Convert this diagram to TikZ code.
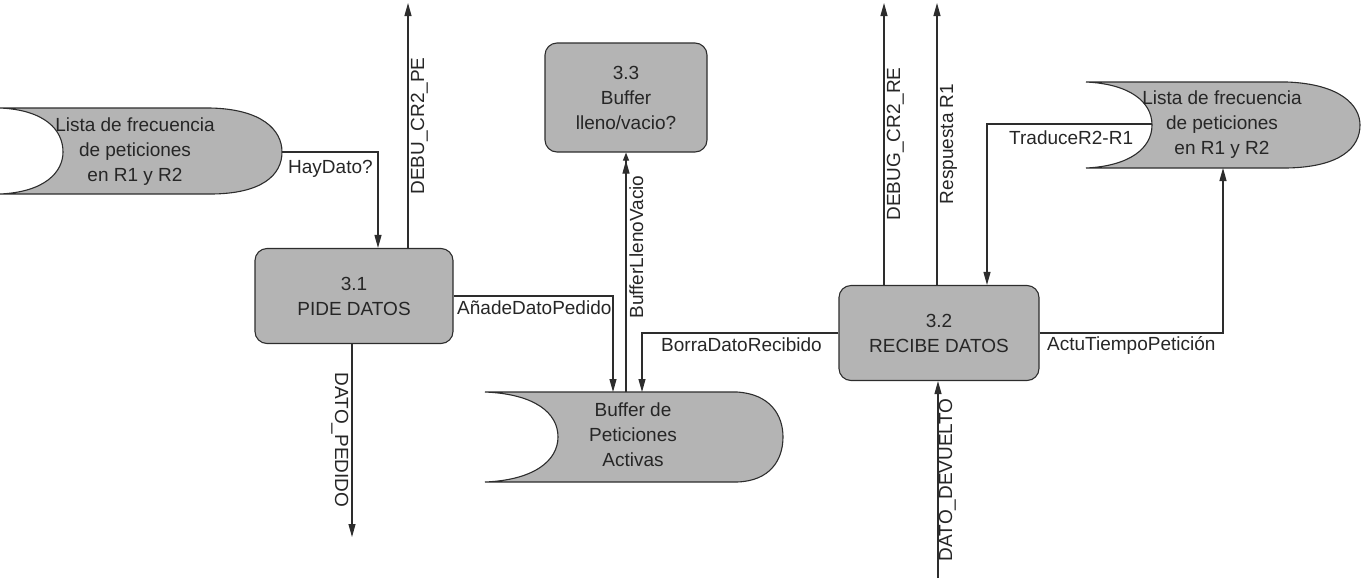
\documentclass[tikz,border=0pt]{standalone}
\usepackage{fontspec}
\setmainfont{Liberation Sans}
\usetikzlibrary{arrows.meta,calc}
\definecolor{storegray}{RGB}{180,180,180}
\definecolor{linegray}{RGB}{45,45,45}
\begin{document}
\begin{tikzpicture}[x=1pt,y=-1pt,
  txt/.style={font=\fontsize{19}{25}\selectfont, inner sep=0pt, text=black!85},
  proc/.style={txt, draw=linegray, fill=storegray, rounded corners=12pt, line width=1.1pt, align=center},
  storeshape/.style={draw=linegray, fill=storegray, line width=1.1pt},
  flow/.style={draw=linegray, line width=1.1pt, -{Triangle[length=13pt,width=7pt]}},
  flowdbl/.style={draw=linegray, line width=1.1pt, -{Triangle[length=13pt,width=7pt]Triangle[length=8pt,width=6pt]}}]
\useasboundingbox (0,0) rectangle (1366,582);

% data stores
\path[storeshape] (0,108) -- (210,108) .. controls (262,109) and (282,130) .. (282,152)
  .. controls (282,175) and (262,194) .. (210,194) -- (0,194)
  .. controls (45,192) and (63,172) .. (63,152) .. controls (63,130) and (45,110) .. (0,108) -- cycle;
\path[storeshape] (485,392) -- (737,392) .. controls (770,394) and (783,415) .. (783,437)
  .. controls (783,460) and (770,481) .. (737,482) -- (485,482)
  .. controls (535,480) and (558,460) .. (558,437) .. controls (558,413) and (535,394) .. (485,392) -- cycle;
\path[storeshape] (1086,82) -- (1287,82) .. controls (1340,84) and (1360,105) .. (1360,125)
  .. controls (1360,148) and (1340,167) .. (1287,168) -- (1086,168)
  .. controls (1130,166) and (1152,148) .. (1152,125) .. controls (1152,102) and (1130,84) .. (1086,82) -- cycle;

\node[txt, align=center] (ls) at (135,152) {Lista de frecuencia\\de peticiones\\en R1 y R2};
\node[txt, align=center] (bf) at (633,435) {Buffer de\\Peticiones\\Activas};
\node[txt, align=center] (rs) at (1222,125) {Lista de frecuencia\\de peticiones\\en R1 y R2};

% processes
\node[proc, minimum width=198pt, minimum height=95pt] (p31) at (354,296) {3.1\\PIDE DATOS};
\node[proc, minimum width=200pt, minimum height=95pt] (p32) at (939,333) {3.2\\RECIBE DATOS};
\node[proc, minimum width=162pt, minimum height=109pt] (p33) at (626,97.5) {3.3\\Buffer\\lleno/vacio?};

% connector end points
\coordinate (lsTip) at (282,152);
\coordinate (bfA) at (613,392);
\coordinate (bfB) at (626,392);
\coordinate (bfC) at (642,392);
\coordinate (rsIn) at (1152,124);
\coordinate (rsBot) at (1223,168);
\coordinate (top1) at (408,3);
\coordinate (top2) at (884,3);
\coordinate (top3) at (937,3);
\coordinate (bot1) at (352,537);
\coordinate (bot2) at (938,578);

% flows
\draw[flow] (lsTip) -| ([xshift=24pt]p31.north);
\draw[flow] ([xshift=54pt]p31.north) -- (top1);
\draw[flow] (p31.east) -| (bfA);
\draw[flowdbl] (bfB) -- (p33.south);
\draw[flow] (p32.west) -| (bfC);
\draw[flow] (rsIn) -| ([xshift=48pt]p32.north);
\draw[flow] (p32.east) -| (rsBot);
\draw[flow] ([xshift=-55pt]p32.north) -- (top2);
\draw[flow] ([xshift=-2pt]p32.north) -- (top3);
\draw[flow] (bot2) -- ([xshift=-1pt]p32.south);
\draw[flow] ([xshift=-2pt]p31.south) -- (bot1);

% labels
\node[txt, anchor=base west] (lHay) at (288,173) {HayDato?};
\node[txt, anchor=base west] (lAn) at (457,314) {AñadeDatoPedido};
\node[txt, anchor=base west] (lBo) at (661,351) {BorraDatoRecibido};
\node[txt, anchor=base west] (lAc) at (1047,350) {ActuTiempoPetición};
\node[txt, anchor=base west] (lTr) at (1009,144) {TraduceR2-R1};
\node[txt, rotate=90, anchor=base] (lDe) at (424,126) {DEBU\_CR2\_PE};
\node[txt, rotate=90, anchor=base] (lDr) at (900,144) {DEBUG\_CR2\_RE};
\node[txt, rotate=90, anchor=base] (lRe) at (953,144) {Respuesta R1};
\node[txt, rotate=90, anchor=base] (lBu) at (643,247) {BufferLlenoVacio};
\node[txt, rotate=90, anchor=base] (lDd) at (952,480) {DATO\_DEVUELTO};
\node[txt, rotate=-90, anchor=base] (lDp) at (335,440) {DATO\_PEDIDO};
\end{tikzpicture}
\end{document}
